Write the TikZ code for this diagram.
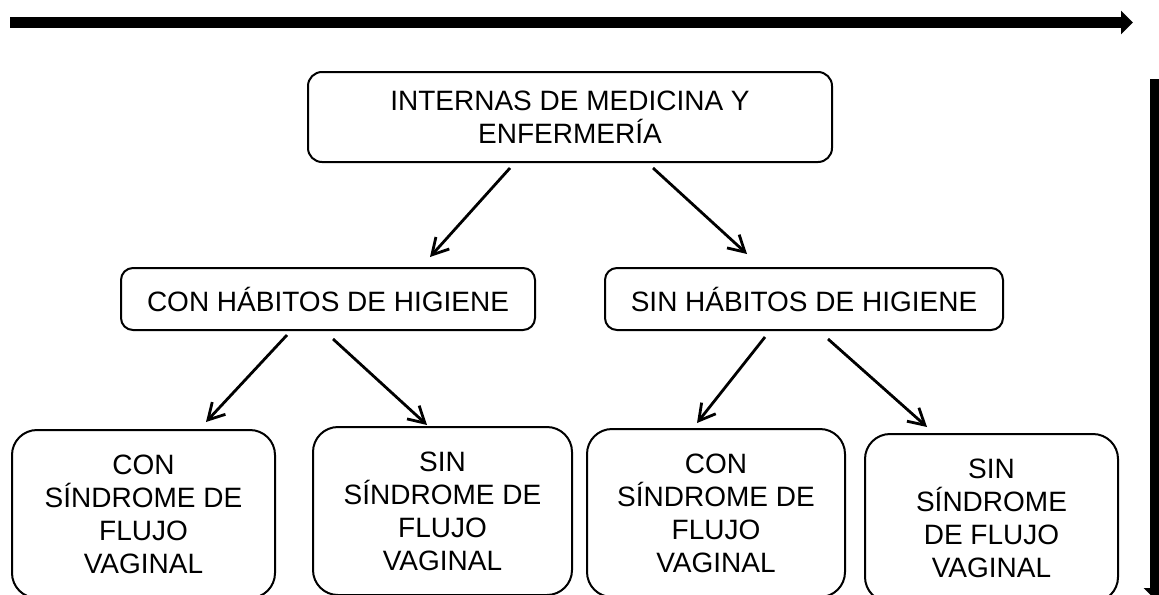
\documentclass[tikz,border=0pt]{standalone}
\usepackage{fontspec}
\setmainfont{Liberation Sans}
\usetikzlibrary{calc,positioning,arrows.meta}

\begin{document}
\begin{tikzpicture}[x=0.5pt,y=-0.5pt,inner sep=0pt,outer sep=0pt,
  caja/.style={draw,line width=1pt,rounded corners=6pt,align=center,
    font=\fontsize{14}{16.5}\selectfont},
  hoja/.style={caja,rounded corners=12.5pt,minimum height=84pt},
  flecha/.style={line width=1.4pt,-{Straight Barb[length=8pt,width=9pt]}},
  gruesa/.style={line width=5.5pt,-{Triangle[length=6pt,width=11.5pt]}}]
\useasboundingbox (0,0) rectangle (1159,594);

% ejes
\coordinate (h1) at (10,22.5);
\coordinate (h2) at (1133,22.5);
\coordinate (v1) at (1155.5,79);
\coordinate (v2) at (1155.5,600);
\draw[gruesa] (h1) -- (h2);
\draw[gruesa] (v1) -- (v2);

% cajas
\node[caja,rounded corners=7pt,minimum width=262pt,minimum height=45pt] (internas) at (570,117)
  {INTERNAS DE MEDICINA Y\\ENFERMERÍA};
\node[caja,minimum width=207pt,minimum height=31pt] (con) at (328,299) {CON HÁBITOS DE HIGIENE};
\node[caja,minimum width=199pt,minimum height=31pt] (sin) at (804,299) {SIN HÁBITOS DE HIGIENE};

\node[hoja,minimum width=131.5pt] (con1) at (143.5,514) {CON\\SÍNDROME DE\\FLUJO\\VAGINAL};
\node[hoja,minimum width=129.5pt] (con2) at (442.5,511) {SIN\\SÍNDROME DE\\FLUJO\\VAGINAL};
\node[hoja,minimum width=129pt] (sin1) at (716,513) {CON\\SÍNDROME DE\\FLUJO\\VAGINAL};
\node[hoja,minimum width=126.5pt] (sin2) at (991.5,518) {SIN\\SÍNDROME\\DE FLUJO\\VAGINAL};

% flechas
\draw[flecha] ($(internas.south)+(-60,6)$) -- ($(con.north)+(102,-11)$);
\draw[flecha] ($(internas.south)+(83,6)$) -- ($(sin.north)+(-57,-14)$);
\draw[flecha] ($(con.south)+(-41,5)$) -- ($(con1.north)+(62.5,-8)$);
\draw[flecha] ($(con.south)+(5,9)$) -- ($(con2.north)+(-15.5,-2)$);
\draw[flecha] ($(sin.south)+(-39,7)$) -- ($(sin1.north)+(-19,-6)$);
\draw[flecha] ($(sin.south)+(24,9)$) -- ($(sin2.north)+(-64.5,-7)$);
\end{tikzpicture}
\end{document}
